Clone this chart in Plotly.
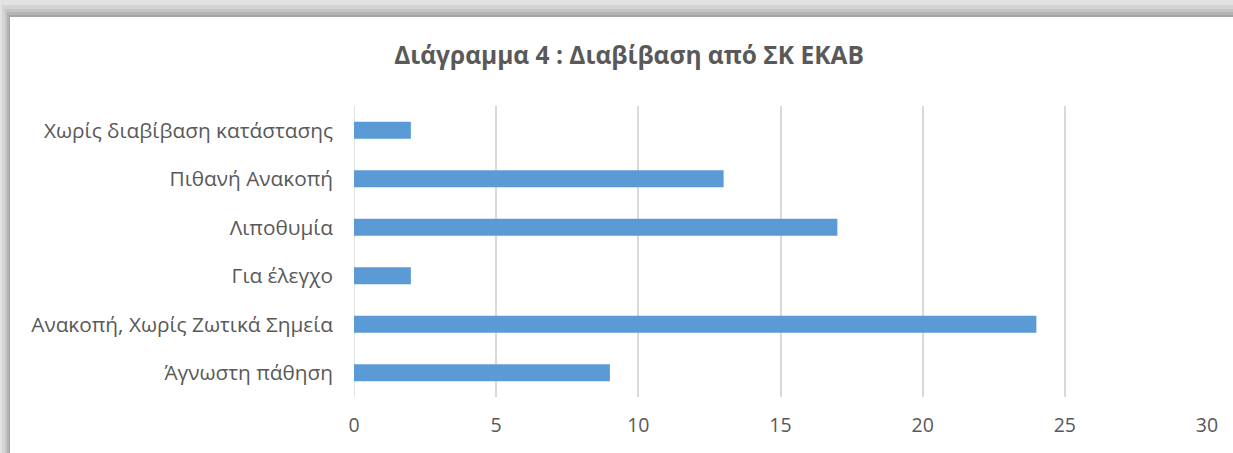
import plotly.graph_objects as go

categories = ["Άγνωστη πάθηση", "Ανακοπή, Χωρίς Ζωτικά Σημεία", "Για έλεγχο",
              "Λιποθυμία", "Πιθανή Ανακοπή", "Χωρίς διαβίβαση κατάστασης"]
values = [9, 24, 2, 17, 13, 2]
x_ticks = [0, 5, 10, 15, 20, 25, 30]

W, H = 1233, 453
L, R, T, B = 354, 26, 106, 56
PW, PH = W - L - R, H - T - B

def px(x):
    return (x - L) / PW

def py(y):
    return (H - B - y) / PH

FONT = "Open Sans"
TXT = "#595959"

fig = go.Figure(go.Bar(
    y=categories, x=values, orientation="h",
    marker=dict(color="#5b9bd5", line=dict(width=0)),
    width=0.35,
))

shapes = []
frames = [(0, 0, "#e2e2e2"), (2, 5, "#d4d4d4"), (5, 9, "#c4c4c4"),
          (7, 12, "#b4b4b4"), (9, 15, "#a4a4a4")]
for x0, y0, c in frames:
    shapes.append(dict(type="rect", xref="paper", yref="paper",
                       x0=px(x0), x1=px(W + 5), y0=py(y0), y1=py(H + 5),
                       fillcolor=c, line=dict(width=0), layer="below"))
shapes.append(dict(type="rect", xref="paper", yref="paper",
                   x0=px(10), x1=px(W + 5), y0=py(17), y1=py(H + 5),
                   fillcolor="white", line=dict(width=0), layer="below"))

fig.update_layout(
    width=W, height=H,
    margin=dict(l=L, r=R, t=T, b=B),
    paper_bgcolor="#e2e2e2",
    plot_bgcolor="rgba(0,0,0,0)",
    shapes=shapes,
    showlegend=False,
    title=dict(text="<b>Διάγραμμα 4 : Διαβίβαση από ΣΚ ΕΚΑΒ</b>",
               x=px(629), xref="paper", xanchor="center",
               y=1 - 55 / H, yanchor="middle",
               font=dict(family=FONT, size=24.5, color=TXT)),
    xaxis=dict(range=[0, 30], tickvals=x_ticks, showgrid=True,
               gridcolor="#d9d9d9", gridwidth=1.5, zeroline=False,
               showline=False, ticks="", ticklabelstandoff=14,
               tickfont=dict(family=FONT, size=19.5, color=TXT), fixedrange=True),
    yaxis=dict(categoryorder="array", categoryarray=categories,
               range=[-0.5, 5.5], showgrid=False, zeroline=False,
               showline=False, ticks="", ticklabelstandoff=20,
               tickfont=dict(family=FONT, size=20.8, color=TXT), fixedrange=True),
)
fig.add_vline(x=0, line_color="#d9d9d9", line_width=1.5, layer="below")

fig.write_html("out.html")
